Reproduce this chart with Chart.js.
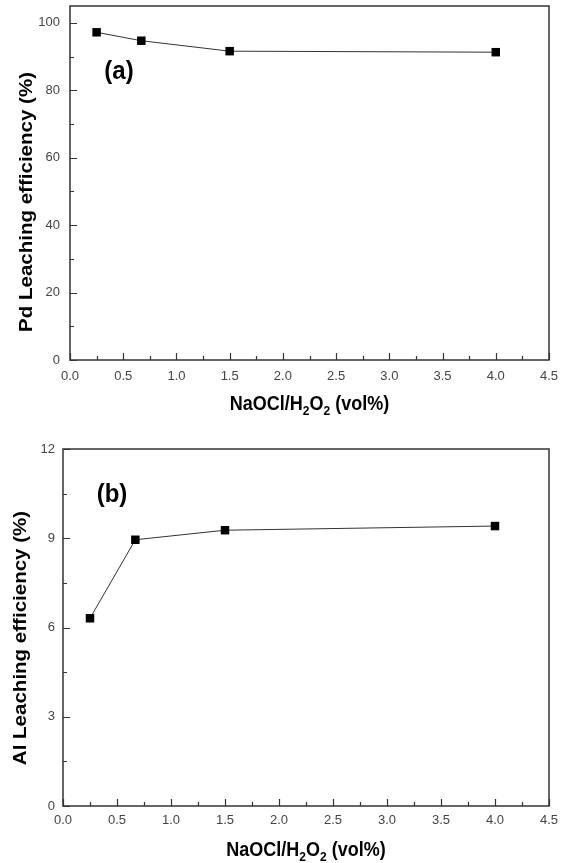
<!DOCTYPE html>
<html lang="en">
<head>
<meta charset="UTF-8">
<title>Leaching efficiency vs NaOCl/H2O2</title>
<script src="https://cdn.jsdelivr.net/npm/chart.js"></script>
<style>
  html, body { margin: 0; padding: 0; background: #fff; }
  canvas { display: block; }
</style>
</head>
<body>
<canvas id="chartA" width="568" height="430"></canvas>
<canvas id="chartB" width="568" height="433"></canvas>
<script>
// values
const concA = [0.25, 0.67, 1.5, 4.0];
const pdLeach = [97.2, 94.7, 91.6, 91.3];
const concB = [0.25, 0.67, 1.5, 4.0];
const alLeach = [6.31, 8.95, 9.27, 9.41];

const xTicks = [0, 0.5, 1.0, 1.5, 2.0, 2.5, 3.0, 3.5, 4.0, 4.5];
const yTicksA = [0, 20, 40, 60, 80, 100];
const yTicksB = [0, 3, 6, 9, 12];

const FONT = "'Liberation Sans', Arial, sans-serif";

// majors plus a minor tick halfway between each pair
function withMinor(majors, max) {
  const out = [];
  majors.forEach((v, i) => {
    out.push(v);
    if (i < majors.length - 1) out.push((v + majors[i + 1]) / 2);
  });
  const step = majors[1] - majors[0];
  const last = majors[majors.length - 1];
  if (last + step / 2 <= max) out.push(last + step / 2);
  return out;
}

function stretchText(ctx, text, x, y, sy) {
  ctx.save();
  ctx.translate(x, y);
  ctx.scale(1, sy);
  ctx.fillText(text, 0, 0);
  ctx.restore();
}

const framePlugin = {
  id: 'frame',
  afterDraw(chart, args, o) {
    const ctx = chart.ctx, a = chart.chartArea;
    const xs = chart.scales.x, ys = chart.scales.y;
    ctx.save();
    ctx.strokeStyle = '#333';
    ctx.lineWidth = 1.5;
    ctx.strokeRect(a.left, a.top, a.right - a.left, a.bottom - a.top);

    // inward ticks on bottom and left
    ctx.lineWidth = 1.2;
    ctx.beginPath();
    xs.ticks.forEach(t => {
      const px = Math.round(xs.getPixelForValue(t.value)) + 0.5;
      const len = o.xMajor.includes(t.value) ? 7 : 4;
      ctx.moveTo(px, a.bottom);
      ctx.lineTo(px, a.bottom - len);
    });
    ys.ticks.forEach(t => {
      const py = Math.round(ys.getPixelForValue(t.value)) + 0.5;
      const len = o.yMajor.includes(t.value) ? 7 : 4;
      ctx.moveTo(a.left, py);
      ctx.lineTo(a.left + len, py);
    });
    ctx.stroke();

    ctx.fillStyle = '#000';
    // panel letter
    ctx.font = 'bold 24px ' + FONT;
    ctx.textAlign = 'center';
    ctx.textBaseline = 'middle';
    stretchText(ctx, o.letter, o.letterX, o.letterY, 1.1);

    // y title, rotated
    ctx.save();
    ctx.translate(o.yTitleX, o.yTitleY);
    ctx.rotate(-Math.PI / 2);
    ctx.scale(1.14, 1);
    ctx.font = 'bold 18px ' + FONT;
    ctx.fillText(o.yTitle, 0, 0);
    ctx.restore();

    // x title with subscripts
    const parts = [['NaOCl/H', 0], ['2', 1], ['O', 0], ['2', 1], [' (vol%)', 0]];
    const mainFont = 'bold 18px ' + FONT, subFont = 'bold 12px ' + FONT;
    let total = 0;
    parts.forEach(p => { ctx.font = p[1] ? subFont : mainFont; total += ctx.measureText(p[0]).width; });
    let x = (a.left + a.right) / 2 - total / 2;
    ctx.textAlign = 'left';
    ctx.textBaseline = 'alphabetic';
    parts.forEach(p => {
      ctx.font = p[1] ? subFont : mainFont;
      stretchText(ctx, p[0], x, o.xTitleY + (p[1] ? 5 : 0), 1.12);
      x += ctx.measureText(p[0]).width;
    });
    ctx.restore();
  }
};

function noPad(s) {
  s.paddingTop = 0; s.paddingBottom = 0; s.paddingLeft = 0; s.paddingRight = 0;
}

function makeChart(id, xs, ys, yMax, yMajor, box) {
  const xAll = withMinor(xTicks, 4.5);
  const yAll = withMinor(yMajor, yMax);
  return new Chart(document.getElementById(id), {
    type: 'scatter',
    data: {
      datasets: [{
        data: xs.map((x, i) => ({ x: x, y: ys[i] })),
        showLine: true,
        borderColor: '#333',
        borderWidth: 1,
        pointStyle: 'rect',
        pointRadius: 6,
        pointBackgroundColor: '#000',
        pointBorderColor: '#000',
        pointBorderWidth: 0
      }]
    },
    options: {
      responsive: false,
      animation: false,
      events: [],
      layout: { padding: { top: box.top, right: box.right, left: 0, bottom: 0 } },
      plugins: {
        legend: { display: false },
        tooltip: { enabled: false },
        frame: box
      },
      scales: {
        x: {
          type: 'linear', min: 0, max: 4.5,
          afterBuildTicks: s => { s.ticks = xAll.map(v => ({ value: v })); },
          afterFit: s => { s.height = box.xAxisH; noPad(s); },
          grid: { display: false, drawTicks: false },
          border: { display: false },
          ticks: {
            autoSkip: false, maxRotation: 0, padding: box.xPad,
            color: '#444', font: { family: FONT, size: 13 },
            callback: v => xTicks.includes(v) ? v.toFixed(1) : ''
          }
        },
        y: {
          type: 'linear', min: 0, max: yMax,
          afterBuildTicks: s => { s.ticks = yAll.map(v => ({ value: v })); },
          afterFit: s => { s.width = box.left; noPad(s); },
          grid: { display: false, drawTicks: false },
          border: { display: false },
          ticks: {
            autoSkip: false, padding: box.yPad,
            color: '#444', font: { family: FONT, size: 13 },
            callback: v => yMajor.includes(v) ? String(v) : ''
          }
        }
      }
    },
    plugins: [framePlugin]
  });
}

makeChart('chartA', concA, pdLeach, 105, yTicksA, {
  top: 5, right: 19, left: 70, xAxisH: 70, xPad: 9, yPad: 10,
  xMajor: xTicks, yMajor: yTicksA,
  letter: '(a)', letterX: 119, letterY: 72,
  yTitle: 'Pd Leaching efficiency (%)', yTitleX: 27, yTitleY: 202,
  xTitleY: 410
});

makeChart('chartB', concB, alLeach, 12, yTicksB, {
  top: 19, right: 19, left: 63, xAxisH: 57, xPad: 7, yPad: 8,
  xMajor: xTicks, yMajor: yTicksB,
  letter: '(b)', letterX: 112, letterY: 65,
  yTitle: 'Al Leaching efficiency (%)', yTitleX: 21, yTitleY: 208,
  xTitleY: 426
});
</script>
</body>
</html>
